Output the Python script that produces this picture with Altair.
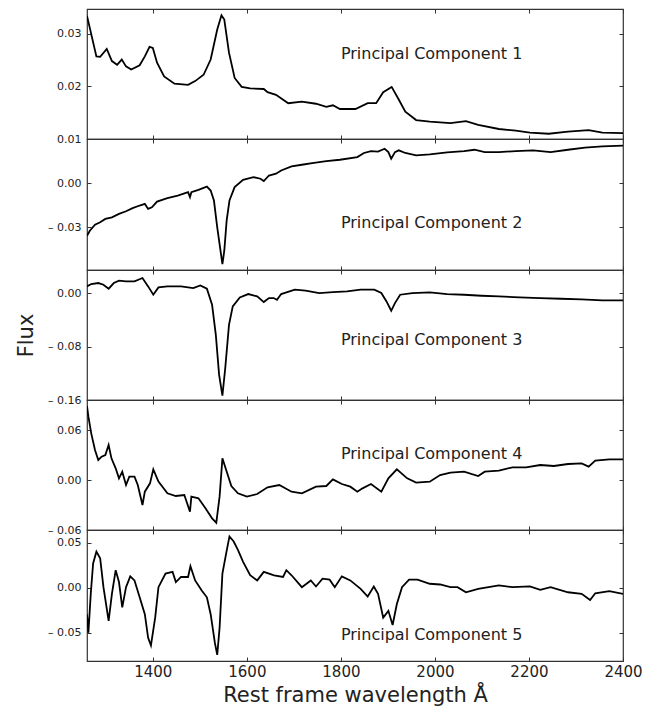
import altair as alt
import pandas as pd

# ---- data ----
pc1_wave = [1260, 1280, 1288, 1302, 1313, 1324, 1334, 1343, 1354, 1372, 1383, 1393, 1400, 1409, 1424, 1446,
            1475, 1490, 1508, 1523, 1537, 1546, 1552, 1562, 1574, 1589, 1607, 1636, 1644, 1662, 1688, 1717,
            1747, 1769, 1783, 1798, 1831, 1857, 1875, 1890, 1908, 1923, 1937, 1960, 1989, 2033, 2066, 2092,
            2136, 2172, 2202, 2242, 2283, 2327, 2356, 2400]
pc1_flux = [0.0334, 0.0257, 0.0256, 0.0271, 0.0248, 0.0241, 0.0251, 0.0238, 0.0232, 0.0240, 0.0257, 0.0275,
            0.0273, 0.0245, 0.0219, 0.0205, 0.0203, 0.0210, 0.0222, 0.0251, 0.0308, 0.0335, 0.0327, 0.0264,
            0.0216, 0.0199, 0.0196, 0.0195, 0.0189, 0.0184, 0.0168, 0.0171, 0.0167, 0.0161, 0.0164, 0.0157,
            0.0157, 0.0168, 0.0168, 0.0189, 0.0199, 0.0175, 0.0152, 0.0136, 0.0133, 0.0130, 0.0134, 0.0127,
            0.0119, 0.0116, 0.0112, 0.0110, 0.0114, 0.0117, 0.0112, 0.0111]

pc2_wave = [1260, 1266, 1277, 1288, 1299, 1313, 1328, 1343, 1357, 1372, 1383, 1390, 1398, 1409, 1431, 1453,
            1475, 1479, 1482, 1497, 1515, 1523, 1530, 1537, 1545, 1548, 1552, 1557, 1563, 1574, 1592, 1614,
            1629, 1636, 1647, 1662, 1673, 1695, 1717, 1739, 1769, 1798, 1835, 1849, 1864, 1879, 1893, 1901,
            1907, 1915, 1923, 1937, 1960, 1989, 2026, 2062, 2084, 2106, 2136, 2172, 2209, 2246, 2283, 2319,
            2356, 2400]
pc2_flux = [-0.0357, -0.0323, -0.0282, -0.0266, -0.0243, -0.0232, -0.0209, -0.0191, -0.0170, -0.0152, -0.0141,
            -0.0175, -0.0164, -0.0125, -0.0102, -0.0084, -0.0061, -0.0095, -0.0061, -0.0045, -0.0023, -0.0050,
            -0.0118, -0.0300, -0.0482, -0.0550, -0.0459, -0.0255, -0.0118, -0.0027, 0.0023, 0.0041, 0.0030,
            0.0014, 0.0052, 0.0064, 0.0086, 0.0114, 0.0125, 0.0136, 0.0150, 0.0159, 0.0177, 0.0205, 0.0218,
            0.0214, 0.0234, 0.0211, 0.0166, 0.0211, 0.0223, 0.0205, 0.0189, 0.0195, 0.0209, 0.0218, 0.0227,
            0.0211, 0.0211, 0.0218, 0.0223, 0.0211, 0.0227, 0.0241, 0.0250, 0.0255]

pc3_wave = [1260, 1269, 1284, 1295, 1306, 1317, 1328, 1343, 1361, 1378, 1390, 1401, 1412, 1431, 1460, 1486,
            1501, 1515, 1526, 1534, 1541, 1548, 1554, 1562, 1570, 1585, 1603, 1622, 1636, 1647, 1657, 1664,
            1673, 1702, 1725, 1754, 1783, 1813, 1842, 1871, 1886, 1897, 1907, 1915, 1926, 1952, 1989, 2026,
            2062, 2099, 2136, 2180, 2224, 2268, 2312, 2356, 2400]
pc3_flux = [0.0100, 0.0135, 0.0150, 0.0125, 0.0065, 0.0150, 0.0185, 0.0175, 0.0175, 0.0225, 0.0100, -0.0025,
            0.0085, 0.0100, 0.0100, 0.0075, 0.0115, 0.0065, -0.0175, -0.0625, -0.1225, -0.1535, -0.1125,
            -0.0475, -0.0200, -0.0065, -0.0015, -0.0050, -0.0135, -0.0075, -0.0075, -0.0100, -0.0015, 0.0050,
            0.0035, 0.0000, 0.0015, 0.0025, 0.0050, 0.0050, 0.0000, -0.0125, -0.0265, -0.0150, -0.0025,
            0.0000, 0.0010, -0.0015, -0.0025, -0.0040, -0.0050, -0.0065, -0.0075, -0.0085, -0.0095, -0.0110,
            -0.0110]

pc4_wave = [1260, 1263, 1269, 1277, 1284, 1291, 1299, 1306, 1312, 1321, 1328, 1335, 1343, 1350, 1361, 1368,
            1378, 1383, 1394, 1401, 1412, 1431, 1449, 1467, 1479, 1482, 1497, 1512, 1526, 1535, 1542, 1548,
            1556, 1567, 1581, 1600, 1622, 1644, 1669, 1695, 1717, 1747, 1769, 1783, 1802, 1820, 1835, 1846,
            1864, 1886, 1901, 1919, 1941, 1960, 1989, 2011, 2033, 2062, 2092, 2106, 2136, 2165, 2194, 2224,
            2253, 2283, 2312, 2327, 2341, 2371, 2400]
pc4_flux = [0.0888, 0.0760, 0.0560, 0.0360, 0.0240, 0.0280, 0.0300, 0.0420, 0.0260, 0.0140, 0.0020, 0.0100,
            -0.0060, 0.0040, 0.0040, -0.0060, -0.0300, -0.0140, -0.0040, 0.0128, -0.0020, -0.0160, -0.0192,
            -0.0180, -0.0380, -0.0200, -0.0220, -0.0340, -0.0460, -0.0512, -0.0200, 0.0260, 0.0120, -0.0072,
            -0.0160, -0.0200, -0.0168, -0.0088, -0.0060, -0.0140, -0.0160, -0.0080, -0.0072, 0.0008, -0.0048,
            -0.0080, -0.0140, -0.0100, -0.0048, -0.0140, 0.0020, 0.0128, 0.0020, -0.0032, -0.0020, 0.0060,
            0.0088, 0.0100, 0.0048, 0.0100, 0.0112, 0.0152, 0.0152, 0.0180, 0.0168, 0.0192, 0.0200, 0.0160,
            0.0232, 0.0248, 0.0248]

pc5_wave = [1260, 1263, 1268, 1273, 1280, 1288, 1295, 1306, 1313, 1321, 1328, 1335, 1343, 1352, 1361, 1372,
            1383, 1390, 1396, 1405, 1412, 1427, 1442, 1449, 1460, 1475, 1480, 1490, 1504, 1515, 1523, 1532,
            1537, 1542, 1548, 1556, 1563, 1572, 1581, 1592, 1607, 1622, 1636, 1658, 1677, 1684, 1695, 1717,
            1736, 1747, 1761, 1776, 1787, 1802, 1820, 1842, 1857, 1870, 1879, 1890, 1901, 1910, 1919, 1930,
            1945, 1963, 1989, 2011, 2033, 2048, 2066, 2092, 2136, 2165, 2202, 2224, 2246, 2283, 2312, 2330,
            2341, 2371, 2400]
pc5_flux = [-0.0292, -0.0498, -0.0067, 0.0270, 0.0400, 0.0326, 0.0007, -0.0367, -0.0067, 0.0195, 0.0064,
            -0.0217, 0.0007, 0.0127, 0.0082, -0.0105, -0.0292, -0.0554, -0.0637, -0.0330, 0.0007, 0.0157,
            0.0176, 0.0064, 0.0120, 0.0120, 0.0240, 0.0082, -0.0030, -0.0105, -0.0292, -0.0610, -0.0742,
            -0.0442, 0.0157, 0.0382, 0.0569, 0.0513, 0.0419, 0.0288, 0.0139, 0.0082, 0.0176, 0.0139, 0.0120,
            0.0195, 0.0139, 0.0007, 0.0082, 0.0015, 0.0101, 0.0090, 0.0007, 0.0127, 0.0082, -0.0011, -0.0097,
            0.0015, -0.0067, -0.0330, -0.0255, -0.0412, -0.0180, 0.0007, 0.0090, 0.0090, 0.0045, 0.0037,
            0.0007, 0.0007, -0.0049, -0.0011, 0.0026, 0.0007, 0.0015, -0.0022, 0.0007, -0.0049, -0.0067,
            -0.0135, -0.0060, -0.0037, -0.0067]

panel_labels = ["Principal Component 1", "Principal Component 2", "Principal Component 3",
                "Principal Component 4", "Principal Component 5"]
label_wave = [1800, 1800, 1800, 1800, 1800]
label_flux = [0.0262, -0.0271, -0.0702, 0.0312, -0.0522]

y_domains = [[0.01, 0.0347], [-0.059, 0.030], [-0.16, 0.0345], [-0.06, 0.096], [-0.081, 0.064]]
y_ticks = [[0.01, 0.02, 0.03], [-0.03, 0.0], [-0.16, -0.08, 0.0], [-0.06, 0.0, 0.06], [-0.05, 0.0, 0.05]]
x_ticks = [1400, 1600, 1800, 2000, 2200, 2400]
x_domain = [1260, 2400]

waves = [pc1_wave, pc2_wave, pc3_wave, pc4_wave, pc5_wave]
fluxes = [pc1_flux, pc2_flux, pc3_flux, pc4_flux, pc5_flux]
heights = [130, 131, 130, 130, 131]

FONT = "DejaVu Sans"
YLAB = "datum.value < 0 ? '\u2013 ' + format(-datum.value, '.2f') : format(datum.value, '.2f')"

tick_common = dict(tickSize=4, offset=-4, domain=False, grid=False, tickColor="#333333",
                   tickWidth=1, labelOverlap=False)

panels = []
for i in range(5):
    last = i == 4
    df = pd.DataFrame({"wave": waves[i], "flux": fluxes[i]})
    ldf = pd.DataFrame({"wave": [label_wave[i]], "flux": [label_flux[i]], "label": [panel_labels[i]]})
    xs = alt.Scale(domain=x_domain, nice=False, zero=False)
    ys = alt.Scale(domain=y_domains[i], nice=False, zero=False)

    xb_kwargs = dict(orient="bottom", values=x_ticks, labels=last, format="d", labelFlush=False,
                     labelFontSize=15, labelPadding=3, labelFont=FONT, labelColor="#222222",
                     **tick_common)
    if last:
        xb_kwargs.update(titleFontSize=21, titleFont=FONT, titleFontWeight="normal",
                         titleColor="#222222", titlePadding=5)
    yl_kwargs = dict(orient="left", values=y_ticks[i], labelExpr=YLAB, labelFontSize=11,
                     labelPadding=6, labelFont=FONT, labelColor="#222222", **tick_common)
    if i == 2:
        yl_kwargs.update(titleFontSize=21, titleFont=FONT, titleFontWeight="normal",
                         titleColor="#222222", titlePadding=11)

    line = alt.Chart(df).mark_line(color="black", strokeWidth=1.8, clip=True).encode(
        x=alt.X("wave:Q", scale=xs, title="Rest frame wavelength Å" if last else None,
                axis=alt.Axis(**xb_kwargs)),
        y=alt.Y("flux:Q", scale=ys, title="Flux" if i == 2 else None,
                axis=alt.Axis(**yl_kwargs)),
    )
    ghost = alt.Chart(df).mark_line(opacity=0).encode(
        x=alt.X("wave:Q", scale=xs, title=None,
                axis=alt.Axis(orient="top", values=x_ticks, labels=False, **tick_common)),
        y=alt.Y("flux:Q", scale=ys, title=None,
                axis=alt.Axis(orient="right", values=y_ticks[i], labels=False, **tick_common)),
    )
    text = alt.Chart(ldf).mark_text(align="left", baseline="middle", font=FONT, fontSize=16,
                                    color="#222222").encode(
        x=alt.X("wave:Q", scale=xs, axis=None),
        y=alt.Y("flux:Q", scale=ys, axis=None),
        text="label:N",
    )
    p = alt.layer(line, ghost, text).resolve_axis(x="independent", y="independent").properties(
        width=536, height=heights[i])
    panels.append(p)

chart = alt.vconcat(*panels, spacing=0, bounds="flush").properties(
    padding={"left": 14, "top": 7, "right": 6, "bottom": 5},
    background="white",
).configure_view(stroke="#333333", strokeWidth=1.2)

chart.save("out.html", embed_options={"renderer": "svg", "actions": False})
